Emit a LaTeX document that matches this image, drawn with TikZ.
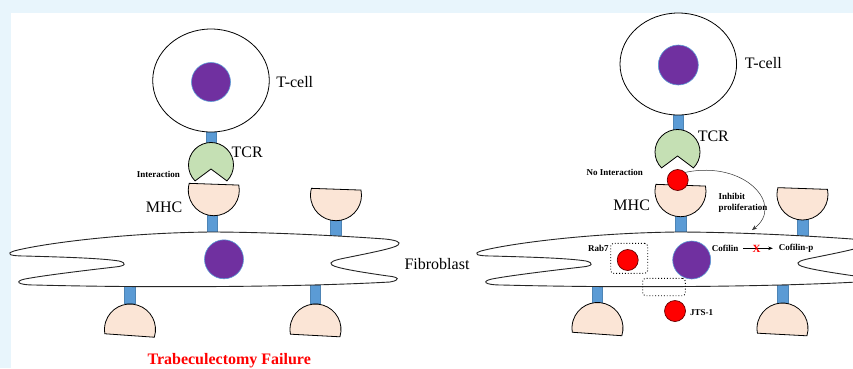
\documentclass[tikz,border=0pt]{standalone}
\usepackage{fontspec}
\setmainfont{Liberation Serif}
\usetikzlibrary{shapes.geometric,arrows.meta,calc}

\definecolor{pagebg}{RGB}{232,245,252}
\definecolor{nucfill}{RGB}{112,48,160}
\definecolor{nucedge}{RGB}{91,155,213}
\definecolor{stalkblue}{RGB}{91,155,213}
\definecolor{tcrgreen}{RGB}{197,224,180}
\definecolor{mhcpeach}{RGB}{251,229,214}

\tikzset{
  cellbody/.style={ellipse, draw=black, line width=0.8pt, fill=white, inner sep=0},
  nucleus/.style={circle, fill=nucfill, draw=nucedge, line width=0.6pt, inner sep=0},
  stalk/.style={rectangle, fill=stalkblue, draw=stalkblue!85!black, line width=0.3pt,
                inner sep=0, minimum width=10.5pt},
  outline/.style={draw=black, line width=0.8pt},
  reddot/.style={circle, fill=red, draw=black!60!red, line width=0.7pt, inner sep=0,
                 minimum size=21pt},
  bigtext/.style={font=\fontsize{16}{18}\selectfont, inner sep=0},
  smalltext/.style={font=\bfseries\fontsize{9}{10.6}\selectfont, inner sep=0},
  dotbox/.style={draw=black, dotted, line width=0.9pt, rounded corners=3pt},
  membrane/.style={draw=black!85, line width=0.9pt, fill=white},
  % receptor cup with a flat top (hangs above the membrane)
  pics/mhcup/.style={code={
    \path[fill=mhcpeach, outline] (-13.6:25.5)
      arc[start angle=-13.6, end angle=193.6, radius=25.5] -- cycle;}},
  % receptor dome with a flat bottom (below the membrane)
  pics/mhcdown/.style={code={
    \path[fill=mhcpeach, outline] (13.6:25.5)
      arc[start angle=13.6, end angle=-193.6, radius=25.5] -- cycle;}},
  % T-cell receptor with its notch opening downwards
  pics/tcr/.style={code={
    \path[fill=tcrgreen, outline] (135:22.5)
      arc[start angle=135, end angle=405, radius=22.5] -- (0,4) -- cycle;}},
  % spread-out fibroblast outline with two lobes on each side
  pics/fibro/.style={code={
    \path[membrane]
      (210,232) .. controls (120,233) and (40,244) .. (14,251)
      .. controls (5,254) and (10,256) .. (25,256)
      .. controls (60,257) and (100,258) .. (119,261)
      .. controls (127,263) and (126,266) .. (115,267)
      .. controls (80,271) and (40,276) .. (25,279)
      .. controls (15,281) and (16,285) .. (35,285)
      .. controls (150,288) and (300,287) .. (390,282)
      .. controls (401,280) and (399,277) .. (388,276)
      .. controls (360,272) and (336,268) .. (332,265)
      .. controls (328,262) and (335,260) .. (345,258)
      .. controls (370,253) and (395,248) .. (398,245)
      .. controls (402,242) and (395,240) .. (385,239)
      .. controls (330,235) and (260,232) .. (210,232) -- cycle;}}
}

\begin{document}
\begin{tikzpicture}[x=1pt,y=-1pt]
  \useasboundingbox (0,0) rectangle (853,368);
  \fill[pagebg] (0,0) rectangle (853,368);
  \fill[white] (11,13) rectangle (853,368);

  % ================= left: interaction =================
  \node[stalk, minimum height=19pt] (ls1) at (211.3,139) {};
  \node[cellbody, minimum width=116.6pt, minimum height=103pt] (ltc) at (211,80.5) {};
  \node[nucleus, minimum size=39pt] (ltn) at (211,82) {};
  \node[bigtext] (ltcl) at (294.8,81.7) {T-cell};
  \pic (ltcr) at (211,165) {tcr};
  \node[bigtext] (ltcrl) at (247.2,152.3) {TCR};
  \node[smalltext] (lint) at (158.3,174.3) {Interaction};

  \node[stalk, minimum height=18pt] (ls2) at (212.3,224) {};
  \node[stalk, minimum height=18pt] (ls3) at (335.7,229) {};
  \pic[rotate=-2] (lmhc1) at (213.8,190.2) {mhcup};
  \pic[rotate=-2] (lmhc2) at (336,195.2) {mhcup};
  \node[bigtext] (lmhcl) at (164,207.3) {MHC};

  \node[stalk, minimum height=18pt] (ls4) at (129.5,294) {};
  \node[stalk, minimum height=18pt] (ls5) at (315.3,294) {};
  \pic (lfib) at (0,0) {fibro};
  \node[nucleus, minimum size=39pt] (lfn) at (224,259.3) {};
  \node[bigtext] (lfibl) at (437,264.3) {Fibroblast};
  \pic[rotate=-4] (lmhc3) at (130,329.5) {mhcdown};
  \pic[rotate=-3] (lmhc4) at (315.5,329.5) {mhcdown};

  \node[font=\bfseries\fontsize{16}{18}\selectfont, text=red, inner sep=0,
        anchor=base] (lfail) at (229.2,364) {Trabeculectomy Failure};

  % ================= right: no interaction =================
  \node[stalk, minimum height=19pt] (rs1) at (678,122) {};
  \node[cellbody, minimum width=116.6pt, minimum height=102pt] (rtc) at (678.3,64) {};
  \node[nucleus, minimum size=40pt] (rtn) at (678.3,65) {};
  \node[bigtext] (rtcl) at (763.3,63.3) {T-cell};
  \pic (rtcr) at (677.5,152) {tcr};
  \node[bigtext] (rtcrl) at (713.3,136.7) {TCR};
  \node[smalltext] (rnoint) at (614.7,172.7) {No Interaction};

  \node[stalk, minimum height=18pt] (rs2) at (680.7,223) {};
  \node[stalk, minimum height=18pt] (rs3) at (802.7,228) {};
  \pic[rotate=-2] (rmhc1) at (680.5,191.2) {mhcup};
  \pic[rotate=-2] (rmhc2) at (802.5,194.5) {mhcup};
  \node[bigtext] (rmhcl) at (631.7,205) {MHC};
  \node[reddot] (rag) at (677.7,180) {};

  \node[stalk, minimum height=18pt] (rs4) at (597.2,294) {};
  \node[stalk, minimum height=18pt] (rs5) at (782.8,294) {};
  \begin{scope}
    \clip (460,0) rectangle (853,368);
    \pic (rfib) at (467,0) {fibro};
  \end{scope}
  \node[nucleus, minimum size=38pt] (rfn) at (691.7,260) {};
  \pic[rotate=-4] (rmhc3) at (597.5,328) {mhcdown};
  \pic[rotate=-3] (rmhc4) at (782.5,328.5) {mhcdown};

  % endosome with Rab7
  \node[dotbox, minimum width=37pt, minimum height=30pt, inner sep=0] (rrabbox) at (629.2,258.3) {};
  \node[reddot] (rrab) at (627.7,260) {};
  \node[smalltext] (rrabl) at (598.3,248.3) {Rab7};

  % JTS-1 leaving the cell
  \node[dotbox, minimum width=42.6pt, minimum height=17.4pt, inner sep=0] (rjbox) at (664,287) {};
  \node[reddot] (rjts) at (675,311) {};
  \node[smalltext] (rjtsl) at (701.7,312.7) {JTS-1};

  % cofilin phosphorylation is blocked
  \node[smalltext] (rcof) at (725,248.3) {Cofilin};
  \node[smalltext] (rcofp) at (796.2,248.3) {Cofilin-p};
  \draw[-{Stealth[length=4.5pt,width=3.5pt]}, line width=0.6pt]
    ([xshift=5pt]rcof.east) -- ([xshift=-6pt]rcofp.west);
  \node[font=\bfseries\fontsize{11}{12}\selectfont, text=red, inner sep=0] (rx) at (756.7,248.8) {X};

  % antigen signal inhibiting proliferation
  \node[smalltext, align=left, anchor=west] (rinh) at (718.3,203) {Inhibit\\proliferation};
  \coordinate (rmem) at (752,230);
  \draw[-{Stealth[length=5pt,width=4pt]}, line width=0.5pt, draw=black!80]
    (rag.north east) .. controls (745,160) and (785,205) .. (rmem);
\end{tikzpicture}
\end{document}
